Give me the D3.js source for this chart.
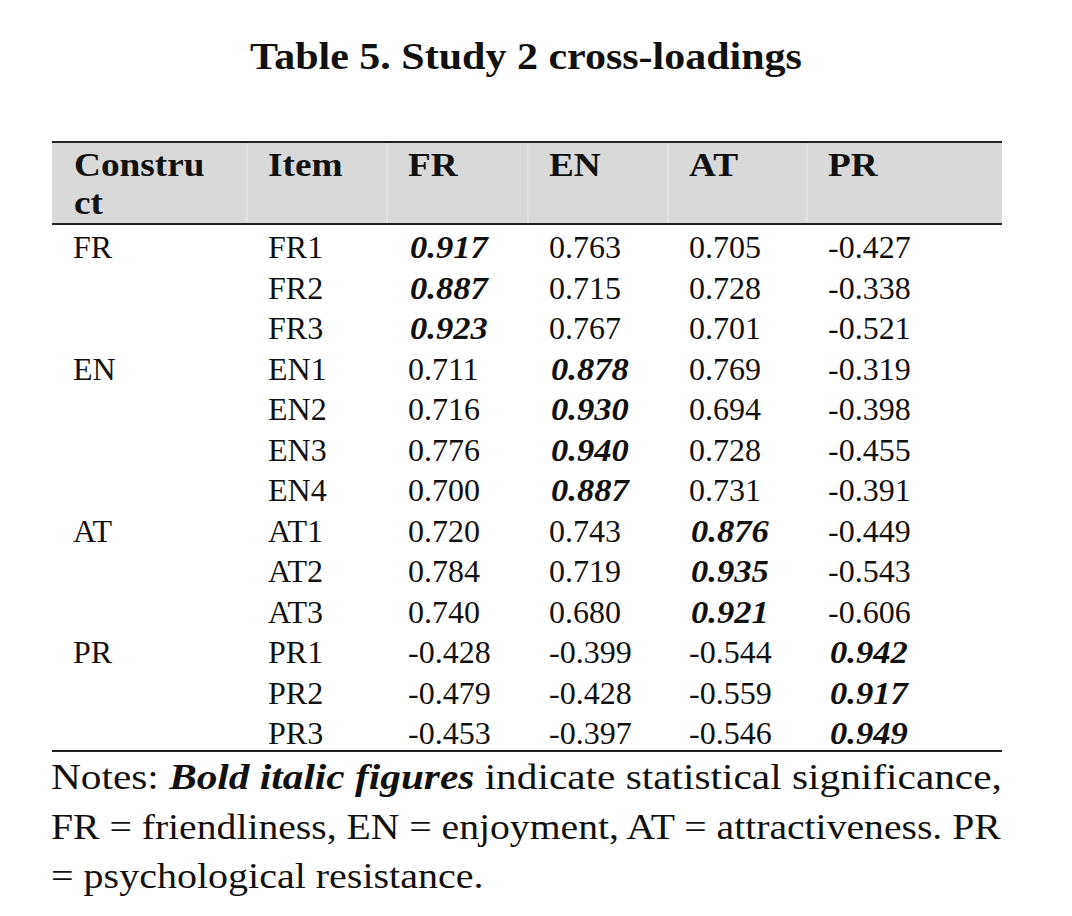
<!DOCTYPE html>
<html>
<head>
<meta charset="utf-8">
<script src="https://cdn.jsdelivr.net/npm/d3@7"></script>
<style>
  html, body { margin: 0; padding: 0; background: #fff; }
  svg { display: block; }
  text { font-family: "Liberation Serif", "DejaVu Serif", serif; fill: #111; }
</style>
</head>
<body>
<svg id="chart" width="1072" height="916"></svg>
<script>
// ---- data ----
const title = "Table 5. Study 2 cross-loadings";
const headers = ["Construct", "Item", "FR", "EN", "AT", "PR"];
const constructs = ["FR", "EN", "AT", "PR"];
const items = ["FR1","FR2","FR3","EN1","EN2","EN3","EN4","AT1","AT2","AT3","PR1","PR2","PR3"];
const itemConstruct = ["FR","FR","FR","EN","EN","EN","EN","AT","AT","AT","PR","PR","PR"];
const FR = [0.917,0.887,0.923,0.711,0.716,0.776,0.700,0.720,0.784,0.740,-0.428,-0.479,-0.453];
const EN = [0.763,0.715,0.767,0.878,0.930,0.940,0.887,0.743,0.719,0.680,-0.399,-0.428,-0.397];
const AT = [0.705,0.728,0.701,0.769,0.694,0.728,0.731,0.876,0.935,0.921,-0.544,-0.559,-0.546];
const PR = [-0.427,-0.338,-0.521,-0.319,-0.398,-0.455,-0.391,-0.449,-0.543,-0.606,0.942,0.917,0.949];
const notes = [
  [["Notes: ", "normal"], ["Bold italic figures", "bi"], [" indicate statistical significance,", "normal"]],
  [["FR = friendliness, EN = enjoyment, AT = attractiveness. PR", "normal"]],
  [["= psychological resistance.", "normal"]]
];

// ---- layout ----
const series = {FR, EN, AT, PR};
const svg = d3.select("#chart");
const tableLeft = 52, tableRight = 1002;
const colEdges = [52, 247, 387, 528, 668, 807, 1002];
const pad = 21;
const fs = 32;

// horizontal stretch helper (reference face is wider than Liberation Serif)
function stretch(sel, k) {
  sel.each(function () {
    const len = this.getComputedTextLength();
    d3.select(this).attr("textLength", len * k).attr("lengthAdjust", "spacingAndGlyphs");
  });
  return sel;
}

// title
stretch(svg.append("text")
  .attr("x", 526).attr("y", 69)
  .attr("text-anchor", "middle")
  .attr("font-size", 37).attr("font-weight", "bold")
  .text(title), 1.135);

// header background
const headTop = 142, headBottom = 224;
svg.append("rect")
  .attr("x", tableLeft).attr("y", headTop)
  .attr("width", tableRight - tableLeft).attr("height", headBottom - headTop)
  .attr("fill", "#d9d9d9");
svg.selectAll("line.sep").data(colEdges.slice(1, -1)).join("line")
  .attr("class", "sep")
  .attr("x1", d => d).attr("x2", d => d)
  .attr("y1", headTop).attr("y2", headBottom)
  .attr("stroke", "#ececec").attr("stroke-width", 1);

// header text
const x = d3.scaleOrdinal().domain(headers).range(colEdges.slice(0, -1).map(e => e + pad));
const hk = 1.13, hfs = 33;
stretch(svg.append("text").attr("x", x("Construct") + 1).attr("y", 176)
  .attr("font-size", hfs).attr("font-weight", "bold").text("Constru"), hk);
stretch(svg.append("text").attr("x", x("Construct") + 1).attr("y", 214)
  .attr("font-size", hfs).attr("font-weight", "bold").text("ct"), hk);
stretch(svg.selectAll("text.head").data(headers.slice(1)).join("text")
  .attr("class", "head")
  .attr("x", d => x(d)).attr("y", 176)
  .attr("font-size", hfs).attr("font-weight", "bold")
  .text(d => d), hk);

// rows
const y = d3.scaleLinear().domain([0, items.length - 1]).range([258, 744]);

items.forEach((item, i) => {
  if (i === 0 || itemConstruct[i - 1] !== itemConstruct[i]) {
    svg.append("text").attr("x", x("Construct")).attr("y", y(i))
      .attr("font-size", fs).text(itemConstruct[i]);
  }
  svg.append("text").attr("x", x("Item")).attr("y", y(i))
    .attr("font-size", fs).text(item);
  constructs.forEach(c => {
    const v = series[c][i];
    const sig = c === itemConstruct[i];
    const t = svg.append("text").attr("x", x(c) + (sig ? 2 : 0)).attr("y", y(i))
      .attr("font-size", fs)
      .attr("font-weight", sig ? "bold" : "normal")
      .attr("font-style", sig ? "italic" : "normal")
      .text(d3.format(".3f")(v).replace("−", "-"));
    if (sig) stretch(t, 1.08);
  });
});

// rules
[[142, 2], [224, 2], [751, 2]].forEach(([yy, w]) => {
  svg.append("line")
    .attr("x1", tableLeft).attr("x2", tableRight)
    .attr("y1", yy).attr("y2", yy)
    .attr("stroke", "#222").attr("stroke-width", w);
});

// notes
const noteY = [789, 839, 888];
const noteK = [1.18, 1.133, 1.143];
notes.forEach((line, li) => {
  const t = svg.append("text").attr("x", 51).attr("y", noteY[li]).attr("font-size", 35);
  line.forEach(([s, style]) => {
    t.append("tspan")
      .attr("font-weight", style === "bi" ? "bold" : "normal")
      .attr("font-style", style === "bi" ? "italic" : "normal")
      .text(s);
  });
  stretch(t, noteK[li]);
});
</script>
</body>
</html>
